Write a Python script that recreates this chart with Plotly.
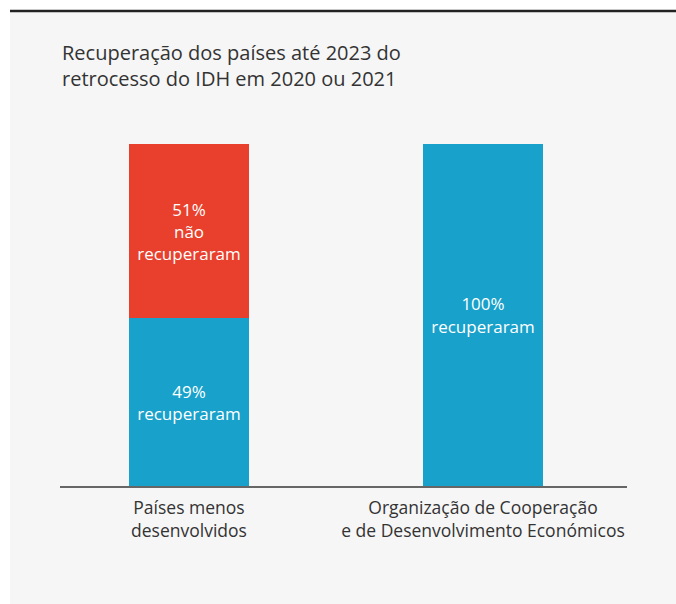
import plotly.graph_objects as go

categories = ["Países menos<br>desenvolvidos", "Organização de Cooperação<br>e de Desenvolvimento Económicos"]
recovered = [49, 100]
not_recovered = [51, 0]
recovered_text = ["49%<br>recuperaram", "100%<br>recuperaram"]
not_recovered_text = ["51%<br>não<br>recuperaram", ""]
title_text = "Recuperação dos países até 2023 do<br>retrocesso do IDH em 2020 ou 2021"

W, H = 676, 604
FONT = "'Open Sans', sans-serif"
BLUE = "#18a1ca"
RED = "#e8402c"

xpos = [0, 1]

fig = go.Figure()
fig.add_trace(go.Bar(
    x=xpos, y=recovered, width=0.408, marker=dict(color=BLUE, line=dict(width=0)),
    text=recovered_text, textposition="inside", insidetextanchor="middle",
    textfont=dict(color="white", size=17, family=FONT), textangle=0,
    hoverinfo="skip",
))
fig.add_trace(go.Bar(
    x=xpos, y=not_recovered, width=0.408, marker=dict(color=RED, line=dict(width=0)),
    text=not_recovered_text, textposition="inside", insidetextanchor="middle",
    textfont=dict(color="white", size=17, family=FONT), textangle=0,
    hoverinfo="skip",
))

x_left, x_right = 60, 627
unit = 294.0
c0 = 189
xr = [(x_left - c0) / unit, (x_right - c0) / unit]
y_bottom, y_top = 486, 144

fig.update_layout(
    width=W, height=H, barmode="stack",
    margin=dict(l=0, r=0, t=0, b=0),
    paper_bgcolor="white", plot_bgcolor="rgba(0,0,0,0)",
    showlegend=False,
    uniformtext=dict(minsize=17, mode="show"),
    xaxis=dict(
        domain=[x_left / W, x_right / W], range=xr,
        tickmode="array", tickvals=xpos, ticktext=categories,
        showline=True, linecolor="#666666", linewidth=2,
        showgrid=False, zeroline=False, ticks="outside", ticklen=5, tickcolor="rgba(0,0,0,0)",
        tickfont=dict(size=17.5, color="#333333", family=FONT),
        fixedrange=True,
    ),
    yaxis=dict(
        domain=[(H - y_bottom) / H, (H - y_top) / H], range=[0, 100],
        visible=False, showgrid=False, zeroline=False, fixedrange=True,
    ),
    shapes=[
        dict(type="rect", xref="paper", yref="paper", x0=10 / W, x1=1, y0=0, y1=(H - 12) / H,
             fillcolor="#f6f6f6", line=dict(width=0), layer="below"),
        dict(type="line", xref="paper", yref="paper", x0=10 / W, x1=1, y0=(H - 11) / H, y1=(H - 11) / H,
             line=dict(color="#222222", width=2.5), layer="below"),
    ],
    annotations=[
        dict(text=title_text, xref="paper", yref="paper", x=60 / W, y=(H - 37) / H,
             xanchor="left", yanchor="top", align="left", showarrow=False,
             font=dict(size=20, color="#333333", family=FONT)),
    ],
)

fig.write_html("out.html")
